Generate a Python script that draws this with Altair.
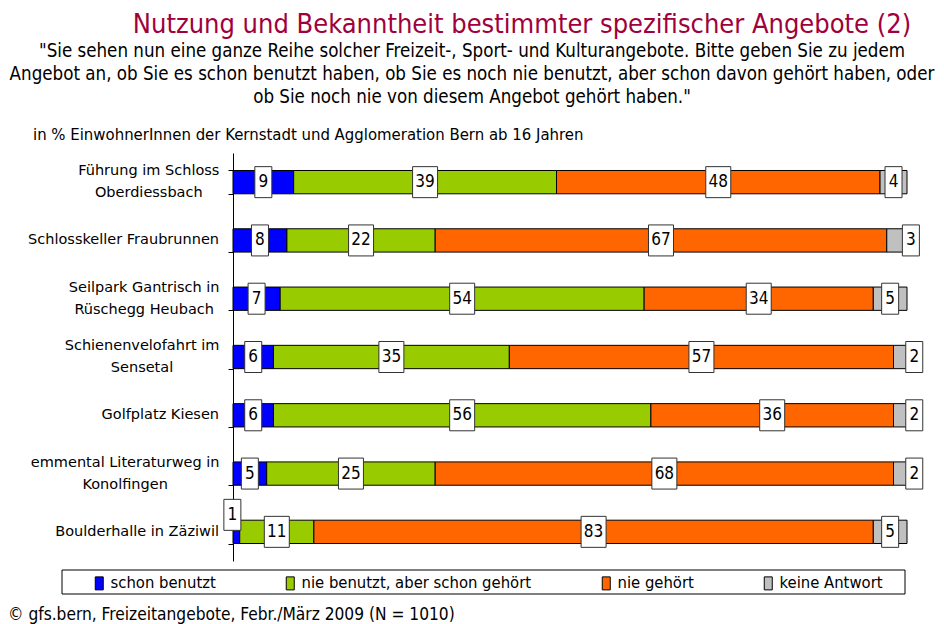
import altair as alt
import pandas as pd

# ---------------- data ----------------
categories = [
    "Führung im Schloss|Oberdiessbach",
    "Schlosskeller Fraubrunnen",
    "Seilpark Gantrisch in|Rüschegg Heubach",
    "Schienenvelofahrt im|Sensetal",
    "Golfplatz Kiesen",
    "emmental Literaturweg in|Konolfingen",
    "Boulderhalle in Zäziwil",
]
series = ["schon benutzt", "nie benutzt, aber schon gehört", "nie gehört", "keine Antwort"]
colors = ["#0000FF", "#99CC00", "#FF6600", "#C0C0C0"]
schon_benutzt = [9, 8, 7, 6, 6, 5, 1]
nie_benutzt_gehoert = [39, 22, 54, 35, 56, 25, 11]
nie_gehoert = [48, 67, 34, 57, 36, 68, 83]
keine_antwort = [4, 3, 5, 2, 2, 2, 5]

title_text = "Nutzung und Bekanntheit bestimmter spezifischer Angebote (2)"
question_lines = [
    "\"Sie sehen nun eine ganze Reihe solcher Freizeit-, Sport- und Kulturangebote. Bitte geben Sie zu jedem",
    "Angebot an, ob Sie es schon benutzt haben, ob Sie es noch nie benutzt, aber schon davon gehört haben, oder",
    "ob Sie noch nie von diesem Angebot gehört haben.\"",
]
base_text = "in % EinwohnerInnen der Kernstadt und Agglomeration Bern ab 16 Jahren"
source_text = "© gfs.bern, Freizeitangebote, Febr./März 2009 (N = 1010)"

NARROW = "DejaVu Sans Condensed, Liberation Sans Narrow, sans-serif"
LABELFONT = "DejaVu Sans, Verdana, sans-serif"
LABELSIZE = 14.5
LABEL_RIGHT = -14  # right edge of the category labels, px left of the axis

# approximate DejaVu Sans advance widths (1/2048 em) used to centre two-line labels
_adv = {"i": 569, "l": 569, "j": 569, " ": 651, "r": 842, "t": 803, "f": 721,
        "m": 1995, "w": 1675, "s": 1067, "c": 1126, "k": 1186, "z": 1075,
        "F": 1178, "S": 1300, "G": 1577, "R": 1423, "L": 1145, "K": 1350, "O": 1612}


def text_width(s):
    return sum(_adv.get(ch, 1260) for ch in s) * LABELSIZE / 2048


rows = []
cat_rows = []
all_vals = [schon_benutzt, nie_benutzt_gehoert, nie_gehoert, keine_antwort]
for i, cat in enumerate(categories):
    parts = cat.split("|")
    if len(parts) == 1:
        cat_rows.append(dict(cat=cat, line=parts[0], n=1, k=0, cx=0))
    else:
        w = max(text_width(p) for p in parts)
        for k, p in enumerate(parts):
            cat_rows.append(dict(cat=cat, line=p, n=2, k=k, cx=LABEL_RIGHT - w / 2))
    start = 0
    for k, (s, vals) in enumerate(zip(series, all_vals)):
        v = vals[i]
        if k == 3 and v <= 3:
            grp = "right"
        elif k == 0 and v <= 1:
            grp = "up"
        else:
            grp = "normal"
        rows.append(dict(cat=cat, series=s, order=k, start=start, end=start + v,
                         mid=start + v / 2, value=v, label=str(v),
                         digits=str(len(str(v))), grp=grp))
        start += v
df = pd.DataFrame(rows)
cat_df = pd.DataFrame(cat_rows)

W, H = 674, 408

yscale = alt.Scale(paddingInner=0.6, paddingOuter=0.3)
yenc = alt.Y(
    "cat:N", sort=categories, scale=yscale,
    axis=alt.Axis(
        title=None, labels=False, tickSize=5, tickColor="black", domainColor="black",
        tickBand="extent",
    ),
)
yplain = alt.Y("cat:N", sort=categories)
xscale = alt.Scale(domain=[0, 100])

base = alt.Chart(df)

bars = base.mark_bar(stroke="black", strokeWidth=1).encode(
    x=alt.X("start:Q", scale=xscale, axis=None),
    x2="end:Q",
    y=yenc,
    color=alt.Color(
        "series:N", scale=alt.Scale(domain=series, range=colors),
        legend=alt.Legend(
            title=None, orient="none", legendX=-142, legendY=422, direction="horizontal",
            labelFont=NARROW, labelFontSize=16.5, labelColor="black", labelLimit=0,
            symbolType="M-0.8,-1.3L0.8,-1.3L0.8,1.3L-0.8,1.3Z", symbolSize=100,
            symbolStrokeColor="black", symbolStrokeWidth=1, symbolOpacity=1,
            columnPadding=66, labelOffset=3, padding=0,
        ),
    ),
    order=alt.Order("order:Q"),
)

# category labels: single-line right aligned, two-line centred on each other
cbase = alt.Chart(cat_df)
ckw = dict(font=LABELFONT, fontSize=LABELSIZE, color="black", baseline="middle")
cat_single = cbase.transform_filter(alt.datum.n == 1).mark_text(align="right", **ckw).encode(
    x=alt.value(LABEL_RIGHT), y=yplain, text="line:N")
cat_l1 = cbase.transform_filter((alt.datum.n == 2) & (alt.datum.k == 0)).mark_text(
    align="center", yOffset=-11, **ckw).encode(
    x=alt.X("cx:Q", scale=None), y=yplain, text="line:N")
cat_l2 = cbase.transform_filter((alt.datum.n == 2) & (alt.datum.k == 1)).mark_text(
    align="center", yOffset=11, **ckw).encode(
    x=alt.X("cx:Q", scale=None), y=yplain, text="line:N")

box_paths = ["M-0.85,-1.55L0.85,-1.55L0.85,1.55L-0.85,1.55Z",
             "M-1.25,-1.55L1.25,-1.55L1.25,1.55L-1.25,1.55Z"]


def label_layers(grp, xo=0, yo=0):
    src = base.transform_filter(alt.datum.grp == grp)
    boxes = src.mark_point(filled=True, fill="white", stroke="#333333", strokeWidth=1,
                           opacity=1, size=400, xOffset=xo, yOffset=yo).encode(
        x=alt.X("mid:Q", scale=xscale, axis=None),
        y=yplain,
        shape=alt.Shape("digits:N", scale=alt.Scale(domain=["1", "2"], range=box_paths), legend=None),
    )
    texts = src.mark_text(font=NARROW, fontSize=17, color="black", xOffset=xo, yOffset=yo).encode(
        x=alt.X("mid:Q", scale=xscale, axis=None),
        y=yplain,
        text="label:N",
    )
    return [boxes, texts]


def txt(s, x, y, **kw):
    return alt.Chart(alt.Data(values=[{"a": 1}])).mark_text(**kw).encode(
        x=alt.value(x), y=alt.value(y), text=alt.value(s))


# page -> plot coords: x - 233, y - 153
title = txt(title_text, 289, -120, font=NARROW, fontSize=27, color="#A0003C", align="center",
            baseline="alphabetic")
qlines = [txt(l, 239, -96 + 23 * i, font=NARROW, fontSize=18.6, color="black", align="center",
              baseline="alphabetic") for i, l in enumerate(question_lines)]
basel = txt(base_text, -200, -13, font=NARROW, fontSize=16.6, color="black", align="left",
            baseline="alphabetic")
source = txt(source_text, -225, 467, font=NARROW, fontSize=17.2, color="black", align="left",
             baseline="alphabetic")

legend_box = alt.Chart(alt.Data(values=[{"a": 1}])).mark_rect(
    fill="white", stroke="black", strokeWidth=1).encode(
    x=alt.value(-171), x2=alt.value(672), y=alt.value(417), y2=alt.value(441))

layers = [legend_box, bars, cat_single, cat_l1, cat_l2] + label_layers("normal") + \
    label_layers("right", xo=14) + label_layers("up", xo=-4, yo=-17) + \
    [title] + qlines + [basel, source]

chart = alt.layer(*layers).properties(
    width=W, height=H,
    padding={"left": 225, "top": 145, "right": 29, "bottom": 71},
    autosize=alt.AutoSizeParams(type="none"),
    background="white",
).configure_view(stroke=None).resolve_scale(shape="independent")

chart.save("out.html", embed_options={"renderer": "svg", "actions": False})
